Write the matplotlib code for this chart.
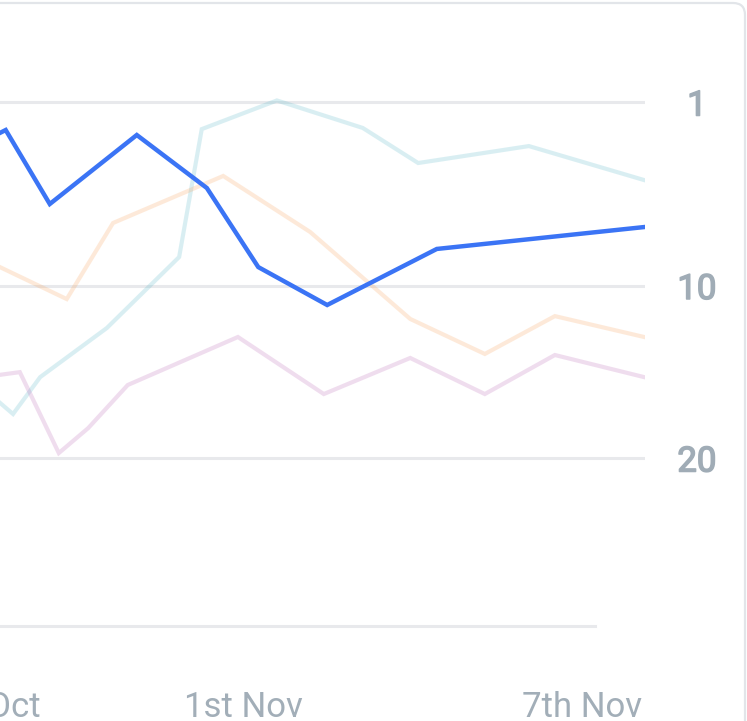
import matplotlib.pyplot as plt
import matplotlib.patheffects as pe
import numpy as np
from matplotlib.patches import FancyBboxPatch

# x = days from 1st Nov, y = rank position
blue_days = [-4.71, -4.20, -3.42, -1.88, -0.64, 0.27, 1.49, 3.43, 7.10]
blue_rank = [2.80, 2.15, 5.67, 2.37, 4.87, 8.97, 11.05, 8.00, 6.85]

peach_days = [-4.71, -3.12, -2.30, -0.35, 1.19, 2.96, 4.28, 5.52, 7.10]
peach_rank = [8.38, 10.72, 6.64, 4.28, 7.11, 11.83, 13.82, 11.67, 12.85]

teal_days = [-4.71, -4.07, -3.59, -2.41, -1.13, -0.73, 0.60, 2.12, 3.10, 5.06, 7.10]
teal_rank = [15.51, 17.33, 15.16, 12.34, 8.43, 2.11, 0.92, 2.06, 3.66, 2.87, 4.48]

pink_days = [-4.71, -3.95, -3.26, -2.74, -2.04, -0.09, 1.43, 2.96, 4.28, 5.52, 7.10]
pink_rank = [15.21, 14.87, 19.67, 18.17, 15.62, 12.85, 16.15, 14.05, 16.15, 13.88, 15.16]

rank_ticks = [1, 10, 20]
date_ticks = [-3.575, 0, 6]
date_labels = ["28th Oct", "1st Nov", "7th Nov"]

P = 0.855


def fwd(r):
    return np.sign(r) * np.abs(r) ** P


def inv(t):
    return np.sign(t) * np.abs(t) ** (1 / P)


W, H = 747, 721
fig = plt.figure(figsize=(W / 100, H / 100), dpi=100)

# card outline
card = FancyBboxPatch((-0.3, -0.3), 7.75, 7.48,
                      boxstyle="round,pad=0,rounding_size=0.12",
                      transform=fig.dpi_scale_trans,
                      facecolor="none", edgecolor="#E2E5E9", linewidth=1.6,
                      zorder=-1)
fig.patches.append(card)

ax_top, ax_bot, ax_right = 80, 626, 645
ax = fig.add_axes([0, (H - ax_bot) / H, ax_right / W, (ax_bot - ax_top) / H])
ax.set_facecolor("none")

# rank axis: power scale, 1 at top
ax.set_yscale("function", functions=(fwd, inv))
k = 183.5 / (10 ** P - 1)
def px_to_rank(y):
    return inv(1 + (y - 102.5) / k)
ymin, ymax = px_to_rank(ax_bot), px_to_rank(ax_top)
ax.set_ylim(ymin, ymax)

px_per_day = 56.5
ax.set_xlim((0 - 243) / px_per_day, (ax_right - 243) / px_per_day)

ax.set_yticks(rank_ticks)
ax.set_yticklabels([str(v) for v in rank_ticks])
ax.grid(axis="y", color="#E8E9EC", linewidth=2.2)
ax.set_axisbelow(True)
ax.axhline(ymin, xmax=595 / ax_right, color="#E8E9EC", linewidth=2.2, clip_on=False)

for s in ax.spines.values():
    s.set_visible(False)

ax.plot(teal_days, teal_rank, color="#4FB3C6", alpha=0.21, lw=3.0, solid_joinstyle="miter")
ax.plot(peach_days, peach_rank, color="#F99B4F", alpha=0.21, lw=3.0, solid_joinstyle="miter")
ax.plot(pink_days, pink_rank, color="#B85FB2", alpha=0.21, lw=3.0, solid_joinstyle="miter")
ax.plot(blue_days, blue_rank, color="#3B74F5", lw=3.2, solid_joinstyle="miter")

# rank labels: regular face, thickened a little
ycol = "#A0ACB6"
ax.yaxis.tick_right()
ax.tick_params(axis="y", length=0, pad=37.4, labelsize=25, labelcolor=ycol)
for lab in ax.get_yticklabels():
    lab.set_horizontalalignment("center")
    lab.set_fontfamily("Roboto")
    lab.set_path_effects([pe.withStroke(linewidth=1.1, foreground=ycol)])

ax.set_xticks(date_ticks)
ax.set_xticklabels(date_labels)
ax.tick_params(axis="x", length=0, pad=65.5, labelsize=25, labelcolor="#A2AEB8")
for i, lab in enumerate(ax.get_xticklabels()):
    lab.set_fontfamily("Roboto")
    lab.set_verticalalignment("baseline")
    if i == 0:
        lab.set_horizontalalignment("right")

fig.savefig("out.png", dpi=100)
